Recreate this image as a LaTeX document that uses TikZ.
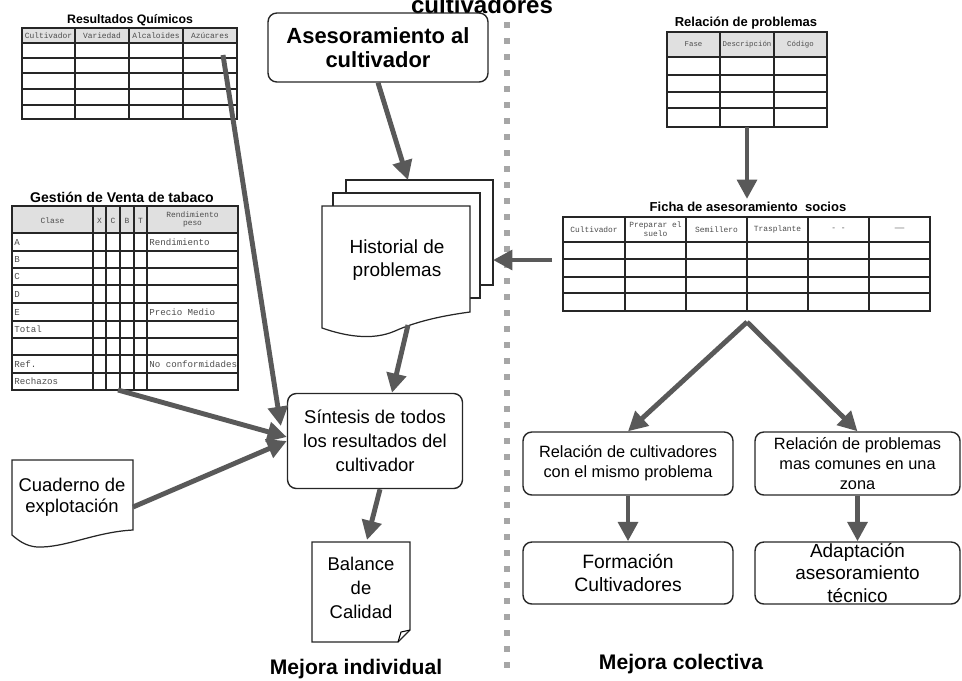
\documentclass[tikz,border=0pt]{standalone}
\usepackage{fontspec}
\setmainfont{Liberation Sans}
\setmonofont{Liberation Mono}
\usepackage{xcolor}
\usepackage{tikz}
\usetikzlibrary{arrows.meta, calc, positioning}

\begin{document}
\begin{tikzpicture}[x=0.02cm,y=-0.02cm,
  box/.style={draw=black!85, line width=0.8pt, rounded corners=5pt, align=center, inner sep=0pt},
  bigarrow/.style={draw=black!65, line width=2.8pt, -{Triangle[length=11pt,width=11pt]}},
  tabline/.style={draw=black!85, line width=0.6pt},
  headfill/.style={fill=black!12},
  tabtitle/.style={font=\bfseries\fontsize{7.4}{8}\selectfont},
  cell/.style={font=\ttfamily\fontsize{4.5}{5}\selectfont, inner sep=0pt, align=center, text=black!70},
  rowcell/.style={font=\ttfamily\fontsize{5.2}{6}\selectfont, inner sep=0pt, anchor=west, text=black!70},
  docpage/.style={draw=black!85, line width=0.7pt, fill=white}]
\useasboundingbox (0,0) rectangle (962,680);

% --- heading, cut at the top edge ---
\node[font=\bfseries\fontsize{13.7}{15}\selectfont, anchor=base] (toptitle) at (482,13) {cultivadores};

% --- dotted divider ---
\foreach \y in {22,38,...,662}
  \fill[black!35] (504,\y) rectangle ++(6,6);

% --- table: Resultados Quimicos ---
\node[tabtitle, font=\bfseries\fontsize{7}{8}\selectfont] (rqtitle) at (130,20) {Resultados Químicos};
\fill[headfill] (22,28) rectangle (237,43);
\draw[tabline] (22,28) rectangle (237,119);
\foreach \y in {43,58,73,89,105} \draw[tabline] (22,\y) -- (237,\y);
\foreach \x in {75,129,183} \draw[tabline] (\x,28) -- (\x,119);
\foreach \x/\t [count=\i] in {48.5/Cultivador, 102/Variedad, 156/Alcaloides, 210/Azúcares}
  \node[cell] (rq\i) at (\x,35.5) {\t};
\coordinate (rqout) at (223,55);

% --- table: Gestion de Venta de tabaco ---
\node[tabtitle, font=\bfseries\fontsize{8}{9}\selectfont] (gvtitle) at (122,197) {Gestión de Venta de tabaco};
\fill[headfill] (12,206) rectangle (238,233);
\draw[tabline] (12,206) rectangle (238,390);
\foreach \y in {233,251,268,285,303,321,338,355,373} \draw[tabline] (12,\y) -- (238,\y);
\foreach \x in {93,106,120,134,147} \draw[tabline] (\x,206) -- (\x,390);
\foreach \x/\t [count=\i] in {52.5/Clase, 99.5/X, 113/C, 127/B, 140.5/T}
  \node[cell] (gvhead\i) at (\x,221) {\t};
\node[cell] (gvrend) at (192.5,219.5) {Rendimiento\\peso};
\foreach \t/\y [count=\i] in {A/242, B/259.5, C/276.5, D/294, E/312, Total/329.5, Ref./364, Rechazos/381.5}
  \node[rowcell] (gvrow\i) at (14,\y) {\t};
\node[rowcell] (gvr1) at (149,242) {Rendimiento};
\node[rowcell] (gvr2) at (149,312) {Precio Medio};
\node[rowcell] (gvr3) at (149,364) {No conformidades};
\coordinate (gvout) at (118,390);

% --- table: Relacion de problemas ---
\node[tabtitle] (rptitle) at (746,23) {Relación de problemas};
\fill[headfill] (667,32) rectangle (827,57);
\draw[tabline] (667,32) rectangle (827,127);
\foreach \y in {57,75,92,108} \draw[tabline] (667,\y) -- (827,\y);
\foreach \x in {720,774} \draw[tabline] (\x,32) -- (\x,127);
\foreach \x/\t [count=\i] in {693.5/Fase, 747/Descripción, 800.5/Código}
  \node[cell, font=\ttfamily\fontsize{4.2}{5}\selectfont] (rp\i) at (\x,44.5) {\t};
\coordinate (rpout) at (747,127);
\coordinate (fichain) at (747,199);

% --- table: Ficha de asesoramiento socios ---
\node[tabtitle] (fichatitle) at (748,207) {Ficha de asesoramiento\ \ socios};
\draw[tabline] (563,217) rectangle (930,311);
\foreach \y in {242,259,277,293} \draw[tabline] (563,\y) -- (930,\y);
\foreach \x in {625,686,747,808,869} \draw[tabline] (\x,217) -- (\x,311);
\foreach \x/\t [count=\i] in {594/Cultivador, 655.5/{Preparar el\\suelo}, 716.5/Semillero, 777.5/Trasplante, 838.5/{- -}, 899.5/{——}}
  \node[cell] (fh\i) at (\x,229.5) {\t};
\coordinate (fichaout) at (552,260);
\coordinate (fichabot) at (747,322);

% --- individual side ---
\node[box, minimum width=4.4cm, minimum height=1.38cm, font=\bfseries\fontsize{12.5}{13.5}\selectfont] (ases) at (378,47.5) {Asesoramiento al\\cultivador};

% stacked pages
\draw[docpage] (346,180) rectangle (493,285);
\draw[docpage] (333,193) rectangle (480,298);
\draw[docpage] (322,206) -- (470,206) -- (470,312) .. controls (440,316) and (415,322) .. (395,331) .. controls (372,341) and (345,336) .. (322,328) -- cycle;
\node[align=center, font=\fontsize{10.8}{13.5}\selectfont] (hist) at (397,260) {Historial de\\problemas};
\coordinate (histtop) at (408,180);
\coordinate (histright) at (493,260);
\coordinate (histbot) at (408,325);

\node[box, minimum width=3.5cm, minimum height=1.9cm, font=\fontsize{10.5}{13.5}\selectfont] (sint) at (375,441) {Síntesis de todos\\los resultados del\\cultivador};

\draw[docpage] (12,460) -- (133,460) -- (133,530) .. controls (95,532) and (65,548) .. (37,547) .. controls (25,546) and (18,540) .. (12,535) -- cycle;
\node[align=center, font=\fontsize{10.5}{12}\selectfont] (cuad) at (72,497) {Cuaderno de\\explotación};
\coordinate (cuadout) at (133,507);

\draw[docpage] (312,542) -- (410,542) -- (410,630) -- (398,642) -- (312,642) -- cycle;
\draw[line width=0.6pt] (398,642) -- (401,632) -- (410,630);
\node[align=center, font=\fontsize{10.5}{13.5}\selectfont] (bal) at (361,588) {Balance\\de\\Calidad};
\coordinate (balin) at (367,540);

\node[font=\bfseries\fontsize{12}{14}\selectfont] (mejind) at (356,669) {Mejora individual};

% --- collective side ---
\node[box, minimum width=4.2cm, minimum height=1.26cm, font=\fontsize{9.3}{11.4}\selectfont] (rcult) at (628,463.5) {Relación de cultivadores\\con el mismo problema};
\node[box, minimum width=4.1cm, minimum height=1.26cm, font=\fontsize{9.3}{11.4}\selectfont] (rprob) at (857.5,463.5) {Relación de problemas\\mas comunes en una\\zona};
\node[box, minimum width=4.2cm, minimum height=1.24cm, font=\fontsize{11}{13}\selectfont] (form) at (628,573) {Formación\\Cultivadores};
\node[box, minimum width=4.1cm, minimum height=1.24cm, font=\fontsize{10.8}{12.6}\selectfont] (adapt) at (857.5,573) {Adaptación\\asesoramiento\\técnico};

\node[font=\bfseries\fontsize{12}{14}\selectfont] (mejcol) at (681,664) {Mejora colectiva};

% --- arrows ---
\draw[bigarrow] (rqout) -- ($(sint.west)+(-6,-15)$);
\draw[bigarrow] (gvout) -- ($(sint.west)+(0,-4)$);
\draw[bigarrow] (cuadout) -- (sint.west);
\draw[bigarrow] (ases.south) -- (histtop);
\draw[bigarrow] (fichaout) -- (histright);
\draw[bigarrow] (histbot) -- ($(sint.north)+(17,0)$);
\draw[bigarrow] ($(sint.south)+(5,0)$) -- (balin);
\draw[bigarrow] (rpout) -- (fichain);
\draw[bigarrow] (fichabot) -- (rcult.north);
\draw[bigarrow] (fichabot) -- (rprob.north);
\draw[bigarrow] (rcult.south) -- (form.north);
\draw[bigarrow] (rprob.south) -- (adapt.north);
\end{tikzpicture}
\end{document}
